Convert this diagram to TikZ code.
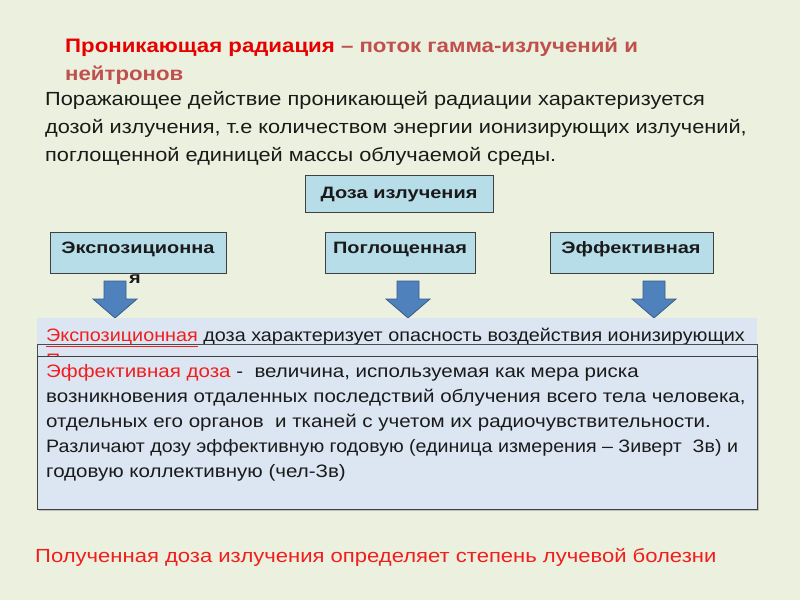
\documentclass[tikz,border=0pt]{standalone}
\usepackage{fontspec}
\setmainfont{Liberation Sans}
\newfontfamily\titleF[FakeStretch=1.14]{Liberation Sans}
\newfontfamily\paraF[FakeStretch=1.145]{Liberation Sans}
\newfontfamily\panelAF[FakeStretch=1.10]{Liberation Sans}
\newfontfamily\panelBF[FakeStretch=1.14]{Liberation Sans}
\newfontfamily\panelCF[FakeStretch=1.09]{Liberation Sans}
\newfontfamily\botF[FakeStretch=1.16]{Liberation Sans}
\newfontfamily\boxF[FakeStretch=1.21]{Liberation Sans}
\definecolor{bgc}{HTML}{EBF1DE}
\definecolor{boxc}{HTML}{B7DEE8}
\definecolor{panelc}{HTML}{DCE6F2}
\definecolor{arrc}{HTML}{4F81BD}
\definecolor{arrd}{HTML}{385D8A}
\definecolor{redA}{HTML}{E60000}
\definecolor{redB}{HTML}{C0504D}
\definecolor{redC}{HTML}{F01E1E}
\definecolor{txt}{HTML}{1A1A1A}
\begin{document}
\begin{tikzpicture}[x=1bp,y=-1bp,
  lbl/.style={anchor=base west,inner sep=0pt,text=txt},
  catbox/.style={draw=black!75,line width=0.9bp,fill=boxc},
  boxlbl/.style={inner sep=0pt,anchor=base,text=txt,font=\boxF\fontsize{16.5bp}{19bp}\bfseries},
  blockarrow/.style={fill=arrc,draw=arrd,line width=0.8bp},
  titlef/.style={font=\titleF\fontsize{19.5bp}{24bp}\bfseries},
  paraf/.style={font=\paraF\fontsize{19bp}{24bp}\selectfont},
  panelaf/.style={font=\panelAF\fontsize{18bp}{22bp}\selectfont},
  panelbf/.style={font=\panelBF\fontsize{18bp}{22bp}\selectfont},
  panelcf/.style={font=\panelCF\fontsize{18bp}{22bp}\selectfont},
  botf/.style={font=\botF\fontsize{19bp}{24bp}\selectfont}]
\fill[bgc] (0,0) rectangle (800,600);
\useasboundingbox (0,0) rectangle (800,600);
% title
\node[lbl,titlef] (t1) at (65,53) {\textcolor{redA}{Проникающая радиация} \textcolor{redB}{– поток гамма-излучений и}};
\node[lbl,titlef,text=redB] (t2) at (65,81) {нейтронов};
% paragraph
\node[lbl,paraf] (p1) at (45,106) {Поражающее действие проникающей радиации характеризуется};
\node[lbl,paraf] (p2) at (45,134) {дозой излучения, т.е количеством энергии ионизирующих излучений,};
\node[lbl,paraf] (p3) at (45,162) {поглощенной единицей массы облучаемой среды.};
% dose box
\draw[catbox] (305,175) rectangle (493,212);
\node[boxlbl] (doza) at (399,199) {Доза излучения};
% three boxes
\draw[catbox] (50,232) rectangle (226,273);
\node[boxlbl] (exp1) at (138,253) {Экспозиционна};
\node[boxlbl] (exp2) at (135,283) {я};
\draw[catbox] (325,232) rectangle (475,273);
\node[boxlbl] (pog) at (400,253) {Поглощенная};
\draw[catbox] (550,232) rectangle (713,273);
\node[boxlbl] (eff) at (631,253) {Эффективная};
% block arrows
\foreach \cx in {115,408,654}{
  \draw[blockarrow] (\cx-11,281) -- (\cx+11,281) -- (\cx+11,299) -- (\cx+22,299)
     -- (\cx,318) -- (\cx-22,299) -- (\cx-11,299) -- cycle;
}
% panel A
\fill[panelc] (37,318) rectangle (757,357);
\node[lbl,panelaf] (pa1) at (46,341) {\textcolor{redC}{\underline{Экспозиционная}} доза характеризует опасность воздействия ионизирующих};
\begin{scope}
\clip (37,344) rectangle (757,357);
\node[lbl,panelaf,text=redC] (pa2) at (46,366) {П};
\end{scope}
\draw[black!70,line width=0.8bp] (37,357) -- (37,344) -- (757,344) -- (757,357);
% panel B
\fill[black!25] (39,359) rectangle (759,511);
\draw[fill=panelc,draw=black!75,line width=1bp] (37,356) rectangle (757,509);
\node[lbl,panelbf] (pb1) at (46,377) {\textcolor{redC}{Эффективная доза} -\ \ величина, используемая как мера риска};
\node[lbl,panelbf] (pb2) at (46,402.5) {возникновения отдаленных последствий облучения всего тела человека,};
\node[lbl,panelbf] (pb3) at (46,427.5) {отдельных его органов\ \ и тканей с учетом их радиочувствительности.};
\node[lbl,panelcf] (pb4) at (46,452.5) {Различают дозу эффективную годовую (единица измерения – Зиверт\ \ Зв) и};
\node[lbl,panelbf] (pb5) at (46,477) {годовую коллективную (чел-Зв)};
% bottom
\node[lbl,botf,text=redC] (bot) at (35,562) {Полученная доза излучения определяет степень лучевой болезни};
\end{tikzpicture}
\end{document}
